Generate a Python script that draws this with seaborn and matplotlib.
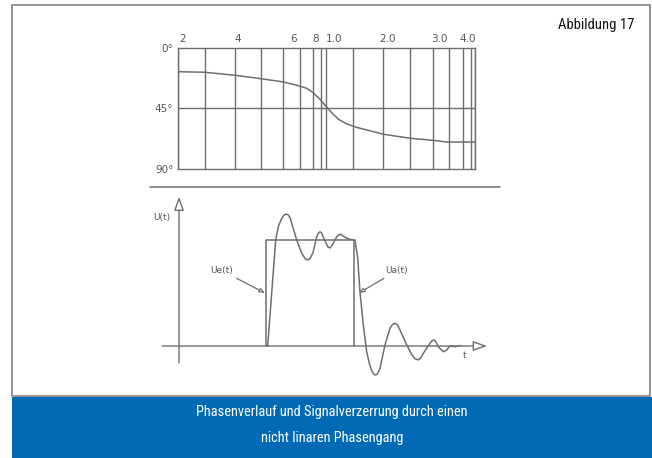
import matplotlib
matplotlib.use("Agg")
import matplotlib.pyplot as plt
import seaborn as sns
from matplotlib.patches import Rectangle
from matplotlib.lines import Line2D

# Phase plot (upper): x positions (0..100 across the box)
grid_pos = [0, 9.2, 19.3, 28.1, 35.5, 41.3, 45.6, 48.4, 49.8, 59.0, 69.1, 78.2, 85.9, 91.4, 95.9, 98.7, 100]
tick_pos = [1.8, 20.3, 38.9, 46.5, 52.6, 70.6, 88.2, 97.6]
tick_labels = ["2", "4", "6", "8", "1.0", "2.0", "3.0", "4.0"]
deg_ticks = [0, 45, 90]
deg_labels = ["0°", "45°", "90°"]

phase_x = [0, 9.0, 19.6, 28.0, 35.6, 40.1, 43.4, 45.6, 47.9, 49.8, 51.8, 54.1, 56.9, 60.2, 69.2, 78.2, 85.8, 90.5, 100]
phase_deg = [17.8, 18.2, 20.5, 23.0, 25.4, 27.9, 30.1, 33.4, 38.3, 43.2, 48.2, 53.1, 56.6, 59.1, 64.2, 67.2, 68.7, 70.0, 70.0]

# Signal plot (lower)
ue_t = [8.67, 8.67, 17.53, 17.53]
ue_u = [0, 1, 1, 0]

ua_t = [8.87, 9.67, 9.93, 10.2, 10.45, 10.7, 10.9, 11.1, 11.3, 11.77, 12.27, 12.6, 12.87, 13.1,
        13.4, 13.77, 13.95, 14.1, 14.27, 14.5, 14.87, 15.1, 15.33, 15.77, 16.0, 16.2, 16.6,
        17.1, 17.6, 17.87, 18.1, 18.43, 18.77, 19.05, 19.3, 19.5, 19.67, 19.85, 20.1, 20.6,
        21.1, 21.35, 21.6, 21.85, 22.1, 22.77, 23.3, 23.6, 23.93, 24.2, 24.43, 25.1, 25.3,
        25.5, 25.7, 25.93, 26.43, 26.77, 27.1, 27.6, 28.1]
ua_u = [0, 1.0, 1.125, 1.19, 1.23, 1.245, 1.24, 1.21, 1.15, 1.0, 0.877, 0.825, 0.81, 0.825,
        0.88, 1.03, 1.066, 1.078, 1.066, 1.01, 0.937, 0.925, 0.953, 1.03, 1.05, 1.054, 1.026,
        1.006, 1.0, 0.83, 0.512, 0.198, -0.054, -0.17, -0.24, -0.268, -0.274, -0.262, -0.21, 0.01,
        0.167, 0.203, 0.214, 0.2, 0.151, 0.01, -0.085, -0.12, -0.132, -0.11, -0.069, 0.025, 0.05,
        0.057, 0.04, -0.007, -0.054, -0.038, 0.003, -0.007, 0.005]

sns.set_theme(style="white")
plt.rcParams["font.family"] = ["DejaVu Sans"]

W, H = 652, 458
gray = "#6e6e6e"
fig = plt.figure(figsize=(W / 100, H / 100), dpi=100)

# frame and blue caption banner
fig.add_artist(Rectangle((12 / W, 1 - 396 / H), 638 / W, 391 / H, transform=fig.transFigure,
                         fill=False, ec="#8c8c8c", lw=1.3))
fig.add_artist(Rectangle((12 / W, 0), 640 / W, 61 / H, transform=fig.transFigure,
                         fc="#006ab4", ec="none"))
narrow = ["Roboto Condensed", "Liberation Sans Narrow", "DejaVu Sans"]
fig.text(332 / W, 1 - 412 / H, "Phasenverlauf und Signalverzerrung durch einen", color="white",
         ha="center", va="center", fontsize=10.4, family=narrow, stretch="condensed")
fig.text(332 / W, 1 - 438 / H, "nicht linaren Phasengang", color="white",
         ha="center", va="center", fontsize=10.4, family=narrow, stretch="condensed")
fig.text(596 / W, 1 - 25 / H, "Abbildung 17", color="#111111", ha="center", va="center",
         fontsize=10.5, family=narrow, stretch="condensed")

# separator line
fig.add_artist(Line2D([150 / W, 500 / W], [1 - 187 / H, 1 - 187 / H], transform=fig.transFigure,
                      color=gray, lw=1.1))

# upper phase diagram
ax1 = fig.add_axes([177.5 / W, 1 - 169 / H, 297.5 / W, 121.3 / H])
ax1.vlines(grid_pos, 0, 90, color=gray, lw=1.0)
ax1.axhline(45, color=gray, lw=1.0)
sns.lineplot(x=phase_x, y=phase_deg, ax=ax1, color=gray, lw=1.1, sort=False, estimator=None)
ax1.set_xlim(0, 100)
ax1.set_ylim(90, 0)
ax1.set_xticks(tick_pos)
ax1.set_xticklabels(tick_labels)
ax1.xaxis.tick_top()
ax1.set_yticks(deg_ticks)
ax1.set_yticklabels(deg_labels)
ax1.tick_params(length=0, labelsize=7.5, colors="#555555", pad=3)
for s in ax1.spines.values():
    s.set_color(gray)
    s.set_linewidth(1.0)

# lower signal diagram
ax2 = fig.add_axes([150 / W, 1 - 385 / H, 350 / W, 195 / H])
ax2.set_xlim(-2.9, 32.1)
ax2.set_ylim(-0.368, 1.472)
ax2.axis("off")
head = dict(arrowstyle="-|>,head_length=0.7,head_width=0.25", fc="white", ec=gray, lw=1.0,
            shrinkA=0, shrinkB=0)
ax2.annotate("", xy=(0, 1.41), xytext=(0, -0.16), arrowprops=head)
ax2.annotate("", xy=(30.8, 0), xytext=(-1.7, 0), arrowprops=head)
sns.lineplot(x=ue_t, y=ue_u, ax=ax2, color=gray, lw=1.1, sort=False, estimator=None)
sns.lineplot(x=ua_t, y=ua_u, ax=ax2, color=gray, lw=1.1, sort=False, estimator=None)

small = dict(color="#555555", fontsize=6.5, ha="center", va="center")
ax2.text(-1.7, 1.217, "U(t)", **small)
ax2.text(28.6, -0.085, "t", **small)
lab_arrow = dict(arrowstyle="-|>,head_length=0.5,head_width=0.2", fc="white", ec=gray, lw=0.9,
                 shrinkA=0, shrinkB=0)
ax2.annotate("Ue(t)", xy=(8.6, 0.5), xytext=(4.3, 0.71), arrowprops=lab_arrow, **small)
ax2.annotate("Ua(t)", xy=(18.0, 0.5), xytext=(21.8, 0.71), arrowprops=lab_arrow, **small)

fig.savefig("out.png", dpi=100)
